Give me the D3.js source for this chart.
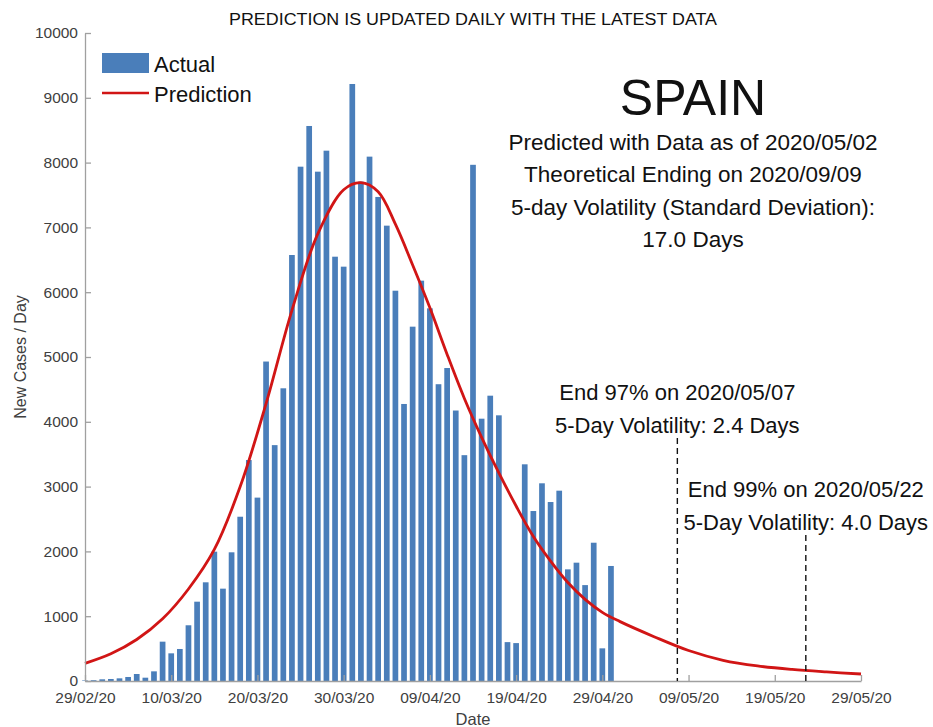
<!DOCTYPE html>
<html>
<head>
<meta charset="utf-8">
<script src="https://cdn.jsdelivr.net/npm/d3@7"></script>
<style>
body { margin: 0; background: #fff; }
text { font-family: Arial, "Liberation Sans", Helvetica, sans-serif; }
</style>
</head>
<body>
<div id="chart-area"></div>
<script>
// daily new cases, one value per day starting 29/02/20
var startDate = '2020-02-29';
var newCases = [8, 12, 26, 31, 41, 62, 108, 51, 149, 607,
	427, 494, 860, 1224, 1523, 1996, 1425, 1986, 2535, 3410,
	2830, 4930, 3640, 4517, 6574, 7937, 8565, 7860, 8184, 6548,
	6394, 9213, 7706, 8092, 7470, 7027, 6023, 4275, 5468, 6178,
	5751, 4580, 4830, 4174, 3485, 7966, 4048, 4403, 4100, 600,
	585, 3344, 2623, 3051, 2762, 2937, 1723, 1826, 1480, 2134,
	504, 1775];

// prediction curve (days since start, cases)
var predDays = [0, 3, 6, 9, 12, 15, 18, 21, 24, 27, 30, 32, 34, 36, 38, 40, 42, 44, 46, 48,
	50, 52, 54, 56, 58, 60, 62, 66, 70, 74, 78, 82, 86, 90];
var predValues = [272, 420, 640, 960, 1420, 2030, 3000, 4280, 5720, 6900, 7580, 7690, 7550, 7050, 6420, 5760, 5040, 4360, 3760, 3210,
	2700, 2230, 1850, 1520, 1260, 1060, 920, 684, 470, 320, 232, 178, 140, 108];

var xTickLabels = ['29/02/20', '10/03/20', '20/03/20', '30/03/20', '09/04/20', '19/04/20', '29/04/20', '09/05/20', '19/05/20', '29/05/20'];
var yTickValues = [0, 1000, 2000, 3000, 4000, 5000, 6000, 7000, 8000, 9000, 10000];

var infoLines = ['Predicted with Data as of 2020/05/02', 'Theoretical Ending on 2020/09/09',
	'5-day Volatility (Standard Deviation):', '17.0 Days'];
var endDates = ['2020-05-07T16:48:00Z', '2020-05-22T14:24:00Z'];
var endLabels = [['End 97% on 2020/05/07', '5-Day Volatility: 2.4 Days'],
	['End 99% on 2020/05/22', '5-Day Volatility: 4.0 Days']];

var width = 933;
var height = 727;
var margin = { top: 33, left: 85, right: 72, bottom: 46 };

var svg = d3.select('#chart-area')
	.append('svg')
	.attr('width', width)
	.attr('height', height);

var parseTick = d3.utcParse('%d/%m/%y');
var start = d3.utcParse('%Y-%m-%d')(startDate);
var dayMs = 864e5;
var tickDates = xTickLabels.map(parseTick);

var x = d3.scaleUtc()
	.domain([tickDates[0], tickDates[tickDates.length - 1]])
	.range([margin.left, width - margin.right]);

var y = d3.scaleLinear()
	.domain([0, 10000])
	.range([height - margin.bottom, margin.top]);

var barW = 5.7;

// bars
svg.append('g')
	.selectAll('rect')
	.data(newCases)
	.enter()
		.append('rect')
		.attr('x', (d, i) => x(d3.utcDay.offset(start, i)) - barW / 2)
		.attr('y', d => y(d))
		.attr('width', barW)
		.attr('height', d => y(0) - y(d))
		.attr('fill', '#4a7eba');

// prediction
var predPts = predDays.map((d, i) => [new Date(start.getTime() + d * dayMs), predValues[i]]);
var line = d3.line()
	.x(d => x(d[0]))
	.y(d => y(d[1]))
	.curve(d3.curveCatmullRom.alpha(0.5));

svg.append('path')
	.datum(predPts)
	.attr('d', line)
	.attr('fill', 'none')
	.attr('stroke', '#d11515')
	.attr('stroke-width', 2.8);

// axes
var xAxis = d3.axisBottom(x)
	.tickValues(tickDates)
	.tickFormat(d3.utcFormat('%d/%m/%y'))
	.tickSizeInner(-6)
	.tickSizeOuter(0)
	.tickPadding(11);

var gx = svg.append('g')
	.attr('transform', 'translate(0,' + y(0) + ')')
	.call(xAxis);

var yAxis = d3.axisLeft(y)
	.tickValues(yTickValues)
	.tickFormat(d3.format('d'))
	.tickSizeInner(-6)
	.tickSizeOuter(0)
	.tickPadding(7);

var gy = svg.append('g')
	.attr('transform', 'translate(' + margin.left + ',0)')
	.call(yAxis);

[gx, gy].forEach(g => {
	g.select('.domain').attr('stroke', '#a0a0a0').attr('stroke-width', 1.3);
	g.selectAll('.tick line').attr('stroke', '#a0a0a0').attr('stroke-width', 1.3);
	g.selectAll('.tick text').attr('fill', '#404040').attr('font-size', 15.5);
});

// axis titles
svg.append('text')
	.attr('x', (margin.left + width - margin.right) / 2)
	.attr('y', 725)
	.attr('text-anchor', 'middle')
	.attr('font-size', 16.5)
	.attr('fill', '#404040')
	.text('Date');

svg.append('text')
	.attr('transform', 'translate(26,' + (margin.top + height - margin.bottom) / 2 + ') rotate(-90)')
	.attr('text-anchor', 'middle')
	.attr('font-size', 16)
	.attr('fill', '#404040')
	.text('New Cases / Day');

// title
svg.append('text')
	.attr('x', 473)
	.attr('y', 25)
	.attr('text-anchor', 'middle')
	.attr('font-size', 16)
	.attr('textLength', 488)
	.attr('lengthAdjust', 'spacingAndGlyphs')
	.attr('fill', '#111')
	.text('PREDICTION IS UPDATED DAILY WITH THE LATEST DATA');

// legend
svg.append('rect')
	.attr('x', 102).attr('y', 53)
	.attr('width', 47).attr('height', 20)
	.attr('fill', '#4a7eba');
svg.append('line')
	.attr('x1', 102).attr('x2', 149)
	.attr('y1', 93).attr('y2', 93)
	.attr('stroke', '#d11515')
	.attr('stroke-width', 2.5);
svg.append('text')
	.attr('x', 154).attr('y', 72)
	.attr('font-size', 22)
	.attr('fill', '#111')
	.text('Actual');
svg.append('text')
	.attr('x', 154).attr('y', 102)
	.attr('font-size', 22)
	.attr('fill', '#111')
	.text('Prediction');

// country + info
svg.append('text')
	.attr('x', 693).attr('y', 115)
	.attr('text-anchor', 'middle')
	.attr('font-size', 50)
	.attr('fill', '#111')
	.text('SPAIN');

svg.append('g')
	.selectAll('text')
	.data(infoLines)
	.enter()
		.append('text')
		.attr('x', 693)
		.attr('y', (d, i) => 150 + i * 32.3)
		.attr('text-anchor', 'middle')
		.attr('font-size', 22.5)
		.attr('fill', '#111')
		.text(d => d);

// end markers
var labelTops = [392, 489];
endDates.forEach((s, i) => {
	var ex = x(d3.isoParse(s));
	svg.append('line')
		.attr('x1', ex).attr('x2', ex)
		.attr('y1', labelTops[i] + 46).attr('y2', y(0))
		.attr('stroke', '#111')
		.attr('stroke-width', 1.4)
		.attr('stroke-dasharray', '6,4');
	endLabels[i].forEach((t, j) => {
		svg.append('text')
			.attr('x', ex)
			.attr('y', labelTops[i] + 8 + j * 32.5)
			.attr('text-anchor', 'middle')
			.attr('font-size', 22)
			.attr('fill', '#111')
			.text(t);
	});
});
</script>
</body>
</html>
